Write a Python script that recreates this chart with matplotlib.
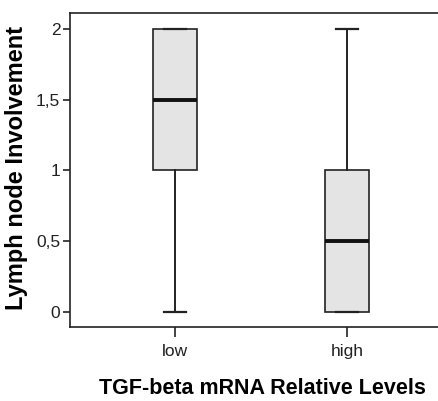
import matplotlib
matplotlib.use("Agg")
import matplotlib.pyplot as plt

plt.rcParams['font.family'] = ['Liberation Sans', 'DejaVu Sans']

groups = ["low", "high"]
whislo = [0, 0]
q1 = [1, 0]
med = [1.5, 0.5]
q3 = [2, 1]
whishi = [2, 2]
yticks = [0, 0.5, 1, 1.5, 2]
ytick_labels = ["0", "0,5", "1", "1,5", "2"]

stats = []
for i, g in enumerate(groups):
    stats.append(dict(label=g, whislo=whislo[i], q1=q1[i], med=med[i],
                      q3=q3[i], whishi=whishi[i], fliers=[]))

fig = plt.figure(figsize=(4.39, 4.01), dpi=100)
ax = fig.add_axes([70/439, 1-327/401, 1-70/439, (327-13)/401])

edge = "#222222"
ax.bxp(stats, positions=[1, 2], widths=44/172, patch_artist=True, showfliers=False,
       boxprops=dict(facecolor="#e4e4e4", edgecolor=edge, linewidth=1.2),
       medianprops=dict(color="#111111", linewidth=2.8),
       whiskerprops=dict(color=edge, linewidth=1.4),
       capprops=dict(color=edge, linewidth=1.6),
       capwidths=22/172)

ax.set_xlim(1-105/172, 2+92/172)
ax.set_ylim(-15/141.5, 2+16/141.5)
ax.set_yticks(yticks)
ax.set_yticklabels(ytick_labels)

for s in ["left", "bottom", "top"]:
    ax.spines[s].set_color("#222222")
    ax.spines[s].set_linewidth(1.2)
ax.spines["right"].set_visible(False)

ax.tick_params(axis="both", direction="out", width=1.2, colors="#222222", labelsize=12.5)
ax.tick_params(axis="y", length=5, pad=2)
ax.tick_params(axis="x", length=7.5, pad=5)

fig.text(17/439, 1-168/401, "Lymph node Involvement", fontsize=17, fontweight="bold",
         rotation=90, ha="center", va="center")
fig.text(262/439, 1-389/401, "TGF-beta mRNA Relative Levels", fontsize=15.5,
         fontweight="bold", ha="center", va="center")

fig.savefig("out.png", dpi=100)
